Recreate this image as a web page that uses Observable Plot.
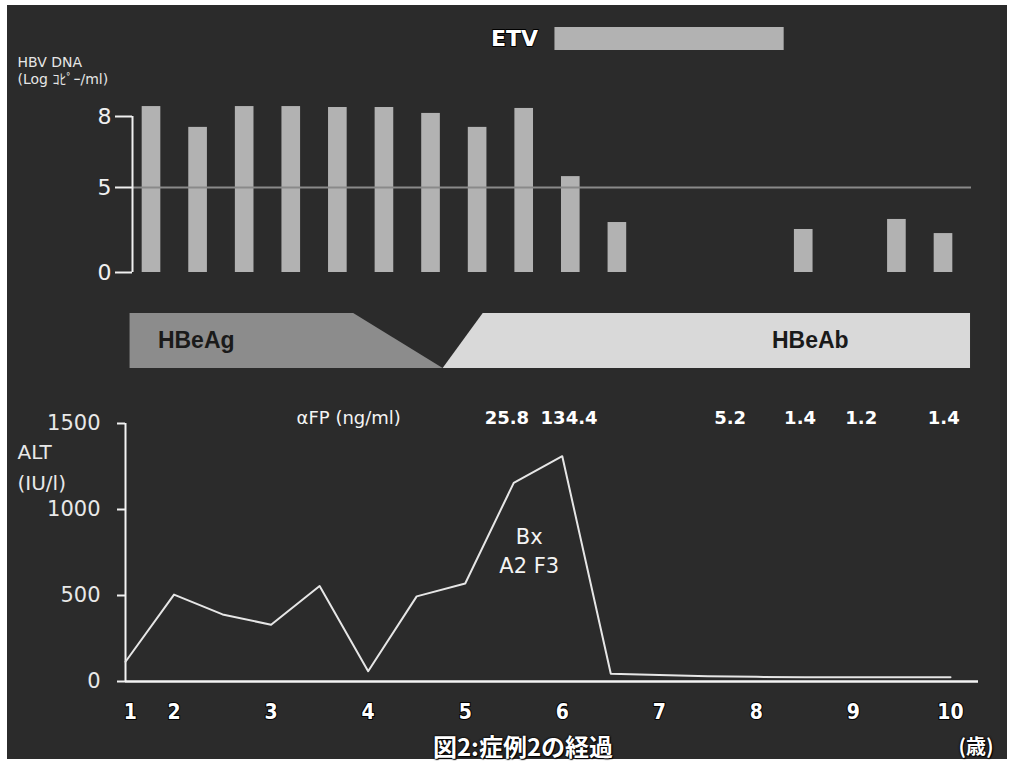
<!DOCTYPE html>
<html><head><meta charset="utf-8">
<script src="https://cdn.jsdelivr.net/npm/d3@7"></script>
<script src="https://cdn.jsdelivr.net/npm/@observablehq/plot@0.6"></script>
<style>
html,body{margin:0;padding:0;background:#fff;}
#root{position:relative;width:1012px;height:763px;overflow:hidden;background:#fff;}
#panel{position:absolute;left:7px;top:5px;width:1000px;height:754px;background:#2b2b2b;}
.layer{position:absolute;left:0;top:0;}
.cap{position:absolute;color:#fff;font-weight:bold;white-space:nowrap;transform:translate(-50%,-50%);
  text-shadow:0 0 2px #000,0 0 2px #000,1px 1px 1px #000;}
</style></head><body>
<div id="root"><div id="panel"></div></div>
<script>
// ---------------- data ----------------
// HBV DNA (log copies/ml), sampled every half year (age in years)
const dnaAges = [1.5, 2, 2.5, 3, 3.5, 4, 4.5, 5, 5.5, 6, 6.5, 8.5, 9.5, 10];
const dnaLog  = [8.42, 7.54, 8.42, 8.42, 8.38, 8.38, 8.13, 7.54, 8.34, 5.46, 2.94, 2.53, 3.12, 2.29];
const dnaTicks = [0, 5, 8];
const dnaThreshold = 5;

// ETV (entecavir) treatment period
const etvStart = 5.83;
const etvEnd = 8.29;

// HBeAg -> HBeAb seroconversion band
const hbeagStart = 1.27, hbeagTopEnd = 3.67, hbeagBottomEnd = 4.63;
const hbeabBottomStart = 4.63, hbeabTopStart = 5.06, hbeabEnd = 10.29;
const bandLabels = ["HBeAg", "HBeAb"];
const bandLabelAges = [1.98, 8.57];

// ALT (IU/l)
const altAges   = [1.5, 2, 2.5, 3, 3.5, 4, 4.5, 5, 5.5, 6, 6.5, 7, 7.5, 8, 8.5, 9, 9.5, 10];
const altValues = [115, 505, 390, 330, 555, 60, 495, 570, 1155, 1310, 45, 38, 30, 27, 25, 25, 25, 25];
const altTicks = [0, 500, 1000, 1500];

// alpha-fetoprotein (ng/ml)
const afpAges   = [5.43, 6.07, 7.73, 8.45, 9.08, 9.93];
const afpValues = [25.8, 134.4, 5.2, 1.4, 1.2, 1.4];
const afpTitle = "αFP (ng/ml)";
const afpTitleAge = 3.8;

// biopsy annotation
const bxLabel = "Bx\nA2 F3";
const bxAge = 5.66, bxAlt = 767;

// x axis (age)
const xTickAt = [1.55, 2, 3, 4, 5, 6, 7, 8, 9, 10];
const xTickLabels = ["1", "2", "3", "4", "5", "6", "7", "8", "9", "10"];

const captionText = "図2:症例2の経過";
const unitText = "(歳)";

// ---------------- build ----------------
const root = document.getElementById("root");
const FONT = "'DejaVu Sans', 'Noto Sans', 'Noto Sans CJK JP', sans-serif";
const baseStyle = {background: "transparent", color: "#f0f0f0", fontFamily: FONT, overflow: "visible"};
function layer(svg) { const d = document.createElement("div"); d.className = "layer"; d.appendChild(svg); root.appendChild(d); }

// the original DNA axis is stretched above 5 (3 units there take as much room as ~4.2 below)
const upperStretch = 1.392;
const dnaPos = v => v <= dnaThreshold ? v : dnaThreshold + (v - dnaThreshold) * upperStretch;

const dna = dnaAges.map((age, i) => ({age, log: dnaLog[i]}));
const alt = altAges.map((age, i) => ({age, alt: altValues[i]}));
const afp = afpAges.map((age, i) => ({age, v: afpValues[i]}));
const xTicks = xTickAt.map((at, i) => ({at, label: xTickLabels[i]}));

// top panel horizontal scale
const topPx = d3.scaleLinear([1.5, 10], [151, 943]);
const topX = {domain: [topPx.invert(132), topPx.invert(971)], range: [132, 971], axis: null};
const topMargins = {marginLeft: 132, marginRight: 41};
const barHalf = 0.1;

// ETV strip
layer(Plot.plot({
  width: 1012, height: 60, marginTop: 27, marginBottom: 10, ...topMargins,
  x: topX, style: baseStyle,
  marks: [
    Plot.rect([{s: etvStart, e: etvEnd}], {x1: "s", x2: "e", fill: "#b2b2b2"}),
    Plot.text([{s: etvStart}], {x: "s", text: () => "ETV", textAnchor: "end", dx: -17,
      fontSize: 22, fontWeight: "bold", fill: "#ffffff", stroke: "#000", strokeWidth: 2, paintOrder: "stroke"})
  ]
}));

// HBV DNA bars
layer(Plot.plot({
  width: 1012, height: 290, marginTop: 116, marginBottom: 18, ...topMargins,
  x: topX,
  y: {domain: [0, dnaPos(8)], label: null},
  style: baseStyle,
  marks: [
    Plot.rectY(dna, {x1: d => d.age - barHalf, x2: d => d.age + barHalf, y1: () => 0, y2: d => dnaPos(d.log), fill: "#b2b2b2"}),
    Plot.ruleY([dnaPos(dnaThreshold)], {stroke: "#8a8a8a", strokeWidth: 2}),
    Plot.ruleX([topX.domain[0]], {stroke: "#f0f0f0", strokeWidth: 2}),
    Plot.axisY({ticks: dnaTicks.map(dnaPos), tickFormat: (d, i) => String(dnaTicks[i]), tickSize: 17, tickPadding: 4,
      fontSize: 22, strokeWidth: 2, label: null, fill: "#f0f0f0"}),
    Plot.text(["HBV DNA\n(Log ｺﾋﾟｰ/ml)"], {text: d => d, frameAnchor: "top-left", dx: -115, dy: -46,
      textAnchor: "start", lineAnchor: "middle", fontSize: 14, lineHeight: 1.2, fill: "#e6e6e6"})
  ]
}));

// HBeAg / HBeAb band
const hbeagShape = [{y: 0, x1: hbeagStart, x2: hbeagBottomEnd}, {y: 1, x1: hbeagStart, x2: hbeagTopEnd}];
const hbeabShape = [{y: 0, x1: hbeabBottomStart, x2: hbeabEnd}, {y: 1, x1: hbeabTopStart, x2: hbeabEnd}];
layer(Plot.plot({
  width: 1012, height: 380, marginTop: 313, marginBottom: 12, ...topMargins,
  x: topX, y: {domain: [0, 1], range: [368, 313], axis: null},
  style: baseStyle,
  marks: [
    Plot.areaX(hbeagShape, {y: "y", x1: "x1", x2: "x2", fill: "#8c8c8c"}),
    Plot.areaX(hbeabShape, {y: "y", x1: "x1", x2: "x2", fill: "#d9d9d9"}),
    Plot.text(bandLabels, {x: (d, i) => bandLabelAges[i], y: () => 0.5, text: d => d,
      fontSize: 23, fontWeight: "bold", fill: "#1a1a1a", fontFamily: "'Liberation Sans Narrow', 'Liberation Sans', Arial, sans-serif"})
  ]
}));

// ALT line chart
const altPx = d3.scaleLinear([1.5, 10], [125, 950]);
const altX = {domain: [1.5, altPx.invert(978)], range: [125, 978], axis: null};
layer(Plot.plot({
  width: 1012, height: 725, marginTop: 423, marginBottom: 44, marginLeft: 125, marginRight: 34,
  x: altX, y: {domain: [0, 1500], range: [681, 423], label: null},
  style: baseStyle,
  marks: [
    Plot.ruleY([0], {stroke: "#f4f4f4", strokeWidth: 2.5}),
    Plot.ruleX([altX.domain[0]], {stroke: "#f4f4f4", strokeWidth: 2}),
    Plot.axisY({ticks: altTicks, tickFormat: d => String(d), tickSize: 8, tickPadding: 17, fontSize: 21, strokeWidth: 2, label: null, fill: "#e8e8e8"}),
    Plot.line(alt, {x: "age", y: "alt", stroke: "#e6e6e6", strokeWidth: 2}),
    Plot.text([afpTitle], {x: () => afpTitleAge, y: () => altTicks[altTicks.length - 1], text: d => d, dy: -5,
      fontSize: 18, fill: "#f4f4f4"}),
    Plot.text(afp, {x: "age", y: () => altTicks[altTicks.length - 1], text: d => d3.format(".1f")(d.v), dy: -5,
      fontSize: 18, fontWeight: "bold", fill: "#ffffff"}),
    Plot.text([bxLabel], {x: () => bxAge, y: () => bxAlt, text: d => d, fontSize: 21, lineHeight: 1.35, fill: "#f4f4f4"}),
    Plot.text(["ALT\n(IU/l)"], {text: d => d, frameAnchor: "top-left", dx: -108, dy: 41,
      textAnchor: "start", lineAnchor: "middle", fontSize: 20, lineHeight: 1.55, fill: "#e8e8e8"}),
    Plot.text(xTicks, {x: "at", y: () => 0, text: "label", dy: 31, fontSize: 21, fontWeight: "bold",
      fill: "#ffffff", stroke: "#000", strokeWidth: 2, paintOrder: "stroke",
      fontFamily: "'DejaVu Sans Condensed', 'DejaVu Sans', sans-serif"})
  ]
}));

// caption & unit
function cap(text, x, y, size) {
  const d = document.createElement("div"); d.className = "cap"; d.textContent = text;
  d.style.left = x + "px"; d.style.top = y + "px"; d.style.fontSize = size + "px";
  d.style.fontFamily = "'Noto Sans CJK JP', sans-serif";
  root.appendChild(d);
}
cap(captionText, 523, 745, 24);
cap(unitText, 976, 745, 20);
</script></body></html>
